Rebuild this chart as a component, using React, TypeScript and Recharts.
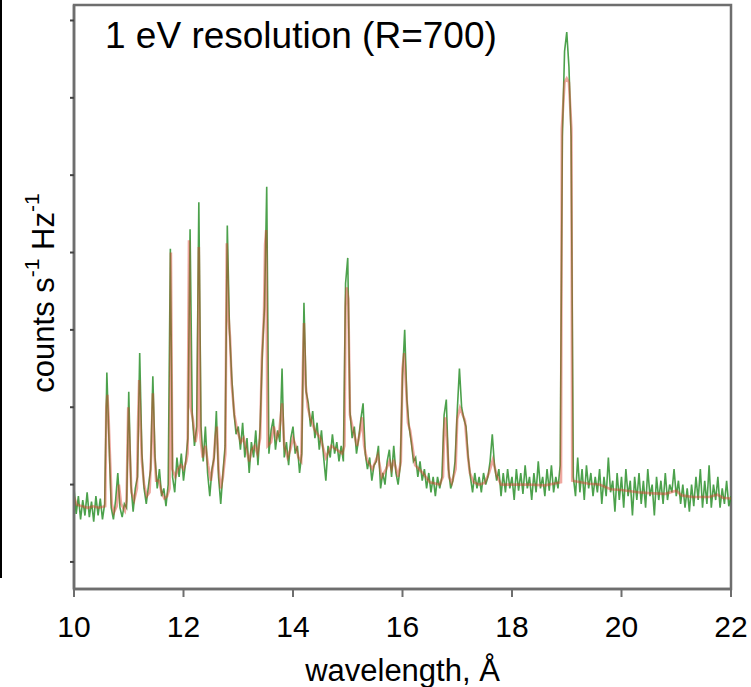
import { Line, LineChart, ReferenceArea, XAxis, YAxis } from "recharts";

const FONT = "'Liberation Sans', Arial, sans-serif";
const FRAME = "#6e6e6e";
const DATA_GREEN = "#1f8a1f";
const MODEL_RED = "#dc3f2c";

const X_TICKS = [10, 12, 14, 16, 18, 20, 22];
const Y_TICKS = [0, 1, 2, 3, 4, 5, 6, 7];

// observed spectrum, sampled every 0.04 Å from 10 Å
const OBS_START = 10;
const OBS_STEP = 0.04;
const OBS_FLUX = [
  // 10
  0.95, 0.62, 0.85, 0.55, 0.8, 0.6, 0.9, 0.58, 0.78, 0.52, 0.85, 0.6, 0.82, 0.55, 0.75, 2.45, 1.55, 0.7, 0.55, 0.8, 1.15, 0.7, 0.58, 0.75, 0.7,
  // 11
  2.2, 1.0, 0.65, 0.95, 1.1, 2.7, 1.4, 0.95, 0.75, 0.98, 1.2, 2.4, 1.35, 0.95, 1.2, 0.85, 0.95, 0.72, 1.0, 4.05, 1.1, 0.9, 1.35, 1.1, 1.4,
  // 12
  1.05, 1.3, 1.6, 4.3, 1.9, 1.5, 1.75, 4.65, 1.75, 1.3, 1.75, 1.15, 0.85, 1.2, 1.35, 1.95, 1.1, 0.75, 1.15, 1.5, 4.35, 3.0, 2.4, 1.95, 1.65,
  // 13
  1.75, 1.45, 1.8, 1.35, 1.6, 1.15, 1.55, 1.35, 1.7, 1.25, 1.75, 2.7, 3.3, 4.85, 1.4, 1.7, 1.85, 1.45, 1.7, 1.55, 2.5, 1.35, 1.55, 1.25, 1.6,
  // 14
  1.75, 1.4, 1.5, 1.15, 1.4, 3.35, 2.2, 2.05, 1.75, 1.95, 1.6, 1.8, 1.45, 1.7, 1.35, 1.05, 1.5, 1.35, 1.65, 1.4, 1.55, 1.3, 1.5, 1.3, 3.6,
  // 15
  3.93, 1.95, 1.6, 1.75, 1.4, 1.6, 1.85, 2.05, 1.4, 1.2, 1.35, 1.05, 1.25, 1.3, 1.5, 0.95, 1.15, 1.0, 1.3, 1.45, 1.1, 1.5, 1.15, 1.0, 1.25,
  // 16
  2.4, 3.0, 2.1, 1.75, 1.55, 1.3, 1.35, 1.1, 1.3, 1.05, 1.2, 0.95, 1.15, 0.9, 1.1, 0.85, 1.1, 0.95, 1.1, 1.9, 2.1, 1.2, 0.95, 1.05, 1.3,
  // 17
  1.95, 2.5, 2.0, 1.85, 1.75, 1.35, 1.1, 0.9, 1.15, 0.95, 1.1, 0.9, 1.15, 1.0, 1.1, 1.3, 1.65, 1.25, 1.05, 1.2, 0.85, 1.15, 0.9, 1.2, 0.95,
  // 18
  1.1, 0.8, 1.2, 0.92, 1.15, 0.88, 1.25, 0.95, 1.1, 0.8, 1.15, 0.9, 1.3, 0.95, 1.1, 0.85, 1.2, 0.92, 1.25, 0.9, 1.1, 0.95, 1.25, 5.5, 6.6,
  // 19
  6.85, 6.4, 5.5, 1.1, 0.85, 1.35, 0.9, 1.2, 0.8, 1.25, 0.95, 1.15, 0.85, 1.1, 0.9, 1.2, 0.75, 1.1, 0.85, 1.35, 0.9, 1.05, 0.65, 1.15, 0.8,
  // 20
  1.1, 0.7, 1.2, 0.85, 1.05, 0.6, 1.1, 0.8, 1.15, 0.75, 1.05, 0.7, 1.2, 0.85, 1.0, 0.6, 1.1, 0.8, 1.05, 0.75, 1.15, 0.8, 1.0, 0.9, 1.2,
  // 21
  0.85, 1.05, 0.75, 1.0, 0.7, 0.95, 0.65, 1.0, 0.72, 1.1, 0.8, 1.2, 0.7, 1.05, 0.75, 1.25, 0.7, 1.0, 0.8, 1.1, 0.7, 0.95, 0.75, 1.05, 0.72,
  // 22
  0.85,
];

// model fit
const MODEL_WL = [
  10.0, 10.05, 10.15, 10.25, 10.35, 10.45, 10.57, 10.59, 10.61, 10.63, 10.66, 10.69, 10.73, 10.78, 10.82, 10.86, 10.93, 10.96, 10.99,
  11.02, 11.05, 11.1, 11.15, 11.17, 11.19, 11.21, 11.24, 11.28, 11.33, 11.38, 11.41, 11.44, 11.47, 11.5, 11.55, 11.6, 11.65, 11.7,
  11.745, 11.77, 11.795, 11.85, 11.9, 11.95, 12.0, 12.05, 12.075, 12.1, 12.13, 12.17, 12.22, 12.255, 12.28, 12.31, 12.35, 12.4, 12.45,
  12.5, 12.55, 12.58, 12.61, 12.64, 12.68, 12.72, 12.765, 12.79, 12.82, 12.85, 12.88, 12.93, 12.98, 13.05, 13.1, 13.15, 13.2, 13.25,
  13.3, 13.35, 13.4, 13.43, 13.47, 13.49, 13.51, 13.535, 13.6, 13.65, 13.7, 13.75, 13.8, 13.84, 13.9, 13.95, 14.0, 14.05, 14.1, 14.15,
  14.18, 14.2, 14.23, 14.27, 14.32, 14.4, 14.5, 14.6, 14.7, 14.8, 14.9, 14.94, 14.96, 14.98, 15.01, 15.04, 15.1, 15.17, 15.23, 15.26,
  15.3, 15.35, 15.45, 15.55, 15.62, 15.7, 15.76, 15.8, 15.84, 15.92, 15.97, 16.0, 16.03, 16.07, 16.1, 16.14, 16.23, 16.37, 16.5, 16.68,
  16.74, 16.76, 16.78, 16.81, 16.85, 16.9, 16.97, 17.0, 17.05, 17.1, 17.14, 17.19, 17.23, 17.3, 17.4, 17.5, 17.58, 17.65, 17.72, 17.8,
  18.0, 18.3, 18.6, 18.895, 18.91, 18.96, 19.0, 19.04, 19.085, 19.1, 19.4, 19.6, 19.8, 20.0, 20.3, 20.5, 20.8, 21.0, 21.1, 21.3, 21.6,
  21.75, 21.85, 22.0,
];
const MODEL_FLUX = [
  0.84, 0.74, 0.72, 0.7, 0.72, 0.7, 0.72, 2.0, 2.16, 1.9, 1.3, 0.75, 0.64, 0.72, 1.0, 0.75, 0.66, 0.8, 2.0,
  1.4, 0.9, 0.8, 0.95, 1.8, 2.35, 1.9, 1.3, 1.0, 0.85, 0.9, 1.4, 2.18, 1.4, 1.05, 1.05, 0.9, 0.82, 0.85,
  0.95, 4.0, 1.2, 1.1, 1.2, 1.25, 1.2, 1.3, 1.4, 4.16, 2.0, 1.85, 1.55, 1.7, 4.07, 1.6, 1.35, 1.5, 1.25,
  1.05, 1.3, 1.6, 1.75, 1.2, 0.95, 1.1, 1.4, 4.12, 3.2, 2.9, 2.3, 1.9, 1.7, 1.55, 1.6, 1.45, 1.3, 1.45,
  1.5, 1.4, 1.6, 2.6, 3.2, 4.1, 4.29, 1.5, 1.55, 1.75, 1.6, 1.7, 2.05, 1.5, 1.35, 1.45, 1.6, 1.5, 1.35, 1.3,
  2.5, 3.09, 2.3, 2.0, 1.85, 1.7, 1.6, 1.35, 1.5, 1.45, 1.4, 1.5, 3.3, 3.55, 3.4, 1.9, 1.7, 1.5, 1.7, 1.87,
  1.5, 1.32, 1.2, 1.38, 1.1, 1.2, 1.3, 1.2, 1.32, 1.1, 1.3, 2.5, 2.7, 2.2, 1.8, 1.7, 1.25, 1.15, 1.03, 1.0,
  1.1, 1.7, 1.87, 1.6, 1.1, 1.02, 1.2, 1.85, 1.99, 1.9, 1.83, 1.4, 1.15, 1.03, 1.0, 1.02, 1.15, 1.32, 1.12, 1.0,
  1.0, 1.0, 0.99, 1.03, 5.6, 6.2, 6.25, 6.2, 5.6, 1.05, 1.01, 1.0, 0.94, 0.93, 0.9, 0.89, 0.88, 0.92, 0.86, 0.84, 0.84,
  0.87, 0.83, 0.82,
];

const obsData = OBS_FLUX.map((v, i) => ({ wl: +(OBS_START + i * OBS_STEP).toFixed(2), v }));
const modelData = MODEL_WL.map((wl, i) => ({ wl, v: MODEL_FLUX[i] }));

function XLabel(props: any) {
  const vb = props.viewBox || {};
  return (
    <text x={vb.x + vb.width / 2} y={vb.y + 92} textAnchor="middle" fontSize={31} fontFamily={FONT} fill="#000">
      wavelength, Å
    </text>
  );
}

function YLabel(props: any) {
  const vb = props.viewBox || {};
  const cx = vb.x - 29;
  const cy = 293;
  return (
    <text
      x={cx}
      y={cy}
      transform={`rotate(-90 ${cx} ${cy})`}
      textAnchor="middle"
      dominantBaseline="central"
      fontSize={31}
      fontFamily={FONT}
      fill="#000"
    >
      counts s
      <tspan dy={-12} fontSize={21}>-1</tspan>
      <tspan dy={12}> Hz</tspan>
      <tspan dy={-12} fontSize={21}>-1</tspan>
    </text>
  );
}

export default function App() {
  return (
    <div style={{ position: "absolute", left: 0, top: 0, width: 751, height: 687, background: "#fff" }}>
      <div style={{ position: "absolute", left: 0, top: 0, width: 2, height: 578, background: "#000" }} />
      <LineChart width={751} height={687} margin={{ top: 5, right: 20, bottom: 0, left: 72 }}>
        <XAxis
          dataKey="wl"
          type="number"
          domain={[10, 22]}
          ticks={X_TICKS}
          allowDataOverflow
          height={98}
          axisLine={{ stroke: FRAME, strokeWidth: 2.5 }}
          tickLine={{ stroke: FRAME, strokeWidth: 2 }}
          tickSize={8}
          tickMargin={19}
          tick={{ fill: "#000", fontSize: 30, fontFamily: FONT }}
          label={<XLabel />}
        />
        <YAxis
          type="number"
          domain={[-0.35, 7.2]}
          ticks={Y_TICKS}
          allowDataOverflow
          width={2}
          axisLine={{ stroke: FRAME, strokeWidth: 2.5 }}
          tickLine={{ stroke: "#444", strokeWidth: 2 }}
          tickSize={4}
          tick={() => <g />}
          label={<YLabel />}
        />
        <ReferenceArea x1={10} x2={22} y1={-0.35} y2={7.2} fill="none" stroke={FRAME} strokeWidth={2.5} ifOverflow="visible" />
        <Line
          data={obsData}
          dataKey="v"
          type="linear"
          stroke={DATA_GREEN}
          strokeWidth={1.6}
          strokeOpacity={0.8}
          dot={false}
          isAnimationActive={false}
        />
        <Line
          data={modelData}
          dataKey="v"
          type="linear"
          stroke={MODEL_RED}
          strokeWidth={2.6}
          strokeOpacity={0.45}
          dot={false}
          isAnimationActive={false}
        />
      </LineChart>
      <svg width={751} height={687} style={{ position: "absolute", left: 0, top: 0, pointerEvents: "none" }}>
        <text x={105} y={48} fontSize={37} fontFamily={FONT} fill="#000">
          1 eV resolution (R=700)
        </text>
      </svg>
    </div>
  );
}
